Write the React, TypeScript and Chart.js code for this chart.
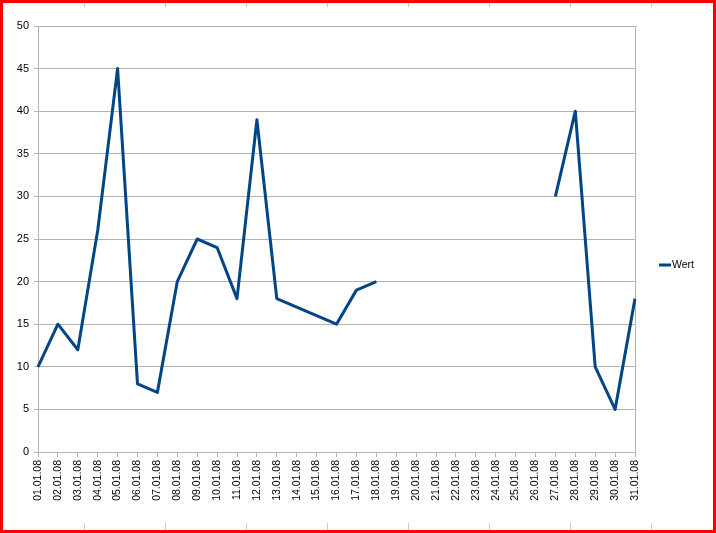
import React, { useEffect, useRef } from "react";
import { Chart, registerables } from "chart.js";

Chart.register(...registerables);

const categories = [
  "01.01.08", "02.01.08", "03.01.08", "04.01.08", "05.01.08", "06.01.08", "07.01.08",
  "08.01.08", "09.01.08", "10.01.08", "11.01.08", "12.01.08", "13.01.08", "14.01.08",
  "15.01.08", "16.01.08", "17.01.08", "18.01.08", "19.01.08", "20.01.08", "21.01.08",
  "22.01.08", "23.01.08", "24.01.08", "25.01.08", "26.01.08", "27.01.08", "28.01.08",
  "29.01.08", "30.01.08", "31.01.08",
];
const wertValues: (number | null)[] = [
  10, 15, 12, 26, 45, 8, 7, 20, 25, 24, 18, 39, 18, 17, 16, 15, 19, 20,
  null, null, null, null, null, null, null, null,
  30, 40, 10, 5, 18,
];
const seriesName = "Wert";
const yMin = 0;
const yMax = 50;
const yStep = 5;

const LINE_COLOR = "#004586";
const GRID = "#b3b3b3";
const FONT = "'Liberation Sans', Arial, sans-serif";

const decorPlugin = {
  id: "decor",
  afterDraw(chart: any) {
    const { ctx, width, height } = chart;
    ctx.save();
    // spreadsheet cell marks
    ctx.strokeStyle = "#c8c8c8";
    ctx.lineWidth = 1;
    for (let x = 84; x < width - 20; x += 81) {
      ctx.beginPath();
      ctx.moveTo(x + 0.5, 0);
      ctx.lineTo(x + 0.5, 7);
      ctx.moveTo(x + 0.5, height - 10);
      ctx.lineTo(x + 0.5, height);
      ctx.stroke();
    }
    // legend
    const ly = Math.round(height / 2) - 2;
    ctx.fillStyle = LINE_COLOR;
    ctx.fillRect(659, ly - 1.5, 12, 3);
    ctx.fillStyle = "#000";
    ctx.font = `10.5px ${FONT}`;
    ctx.textBaseline = "middle";
    ctx.textAlign = "left";
    ctx.fillText(seriesName, 672, ly + 0.5);
    // red frame
    ctx.fillStyle = "#ff0000";
    ctx.fillRect(0, 0, width, 3);
    ctx.fillRect(0, 0, 3, height);
    ctx.fillRect(width - 3, 0, 3, height);
    ctx.fillRect(0, height - 3, width, 3);
    ctx.restore();
  },
};

export default function App() {
  const ref = useRef<HTMLCanvasElement | null>(null);
  useEffect(() => {
    if (!ref.current) return;
    const chart = new Chart(ref.current, {
      type: "line",
      data: {
        labels: categories,
        datasets: [
          {
            label: seriesName,
            data: wertValues,
            borderColor: LINE_COLOR,
            backgroundColor: LINE_COLOR,
            borderWidth: 3,
            borderJoinStyle: "round",
            borderCapStyle: "butt",
            pointRadius: 0,
            pointHoverRadius: 0,
            tension: 0,
            spanGaps: false,
            fill: false,
          },
        ],
      },
      options: {
        animation: false,
        responsive: false,
        maintainAspectRatio: false,
        events: [],
        layout: { padding: { left: 0, top: 26, right: 81, bottom: 0 } },
        plugins: { legend: { display: false }, tooltip: { enabled: false } },
        scales: {
          x: {
            type: "category",
            offset: false,
            afterFit: (s: any) => { s.height = 533 - 452; },
            grid: {
              display: true,
              drawOnChartArea: true,
              color: (c: any) => (c.index === categories.length - 1 ? GRID : "rgba(0,0,0,0)"),
              tickColor: GRID,
              tickLength: 5,
            },
            border: { display: true, color: GRID },
            ticks: {
              autoSkip: false,
              maxRotation: 90,
              minRotation: 90,
              padding: 3,
              color: "#000",
              font: { family: FONT, size: 10.5 },
            },
          },
          y: {
            min: yMin,
            max: yMax,
            afterFit: (s: any) => { s.width = 38; },
            grid: { color: GRID, tickColor: GRID, tickLength: 4 },
            border: { display: true, color: GRID },
            ticks: {
              stepSize: yStep,
              padding: 5,
              color: "#000",
              font: { family: FONT, size: 11 },
            },
          },
        },
      },
      plugins: [decorPlugin],
    } as any);
    return () => chart.destroy();
  }, []);
  return (
    <div style={{ position: "absolute", left: 0, top: 0, width: 716, height: 533, background: "#fff" }}>
      <canvas ref={ref} width={716} height={533} style={{ display: "block", width: 716, height: 533 }} />
    </div>
  );
}
